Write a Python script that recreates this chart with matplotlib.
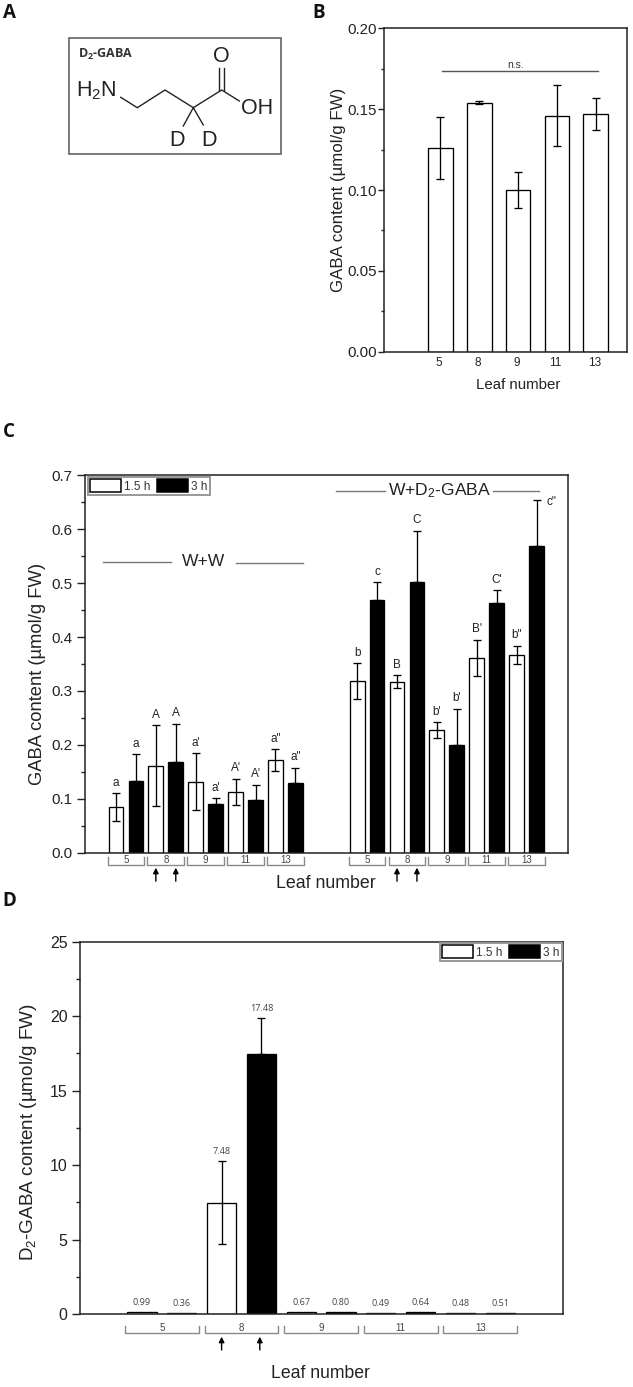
import numpy as np
import matplotlib
matplotlib.use('Agg')
import matplotlib.pyplot as plt
from matplotlib.patches import Patch, Rectangle

plt.rcParams['font.family'] = ['Liberation Sans', 'DejaVu Sans']
plt.rcParams['mathtext.default'] = 'regular'

W, H = 633, 1387
DARK = '#222222'
GRAY = '#8a8a8a'

leaf_labels = ['5', '8', '9', '11', '13']

# panel B
b_values = [0.126, 0.154, 0.100, 0.146, 0.147]
b_errors = [0.019, 0.001, 0.011, 0.019, 0.010]

# panel C, W+W
ww_15h = [0.084, 0.161, 0.132, 0.113, 0.172]
ww_15h_err = [0.026, 0.075, 0.052, 0.024, 0.020]
ww_3h = [0.133, 0.169, 0.090, 0.098, 0.129]
ww_3h_err = [0.050, 0.070, 0.011, 0.028, 0.029]
ww_15h_letters = ['a', 'A', "a'", "A'", 'a"']
ww_3h_letters = ['a', 'A', "a'", "A'", 'a"']

# panel C, W+D2-GABA
dg_15h = [0.318, 0.317, 0.227, 0.361, 0.367]
dg_15h_err = [0.033, 0.012, 0.015, 0.034, 0.017]
dg_3h = [0.469, 0.502, 0.200, 0.464, 0.568]
dg_3h_err = [0.033, 0.095, 0.067, 0.023, 0.087]
dg_15h_letters = ['b', 'B', "b'", "B'", 'b"']
dg_3h_letters = ['c', 'C', "b'", "C'", 'c"']

# panel D
d_15h = [0.14, 7.48, 0.12, 0.10, 0.10]
d_15h_err = [0, 2.77, 0, 0, 0]
d_3h = [0.09, 17.48, 0.13, 0.11, 0.10]
d_3h_err = [0, 2.42, 0, 0, 0]
d_15h_text = ['0.99', '7.48', '0.67', '0.49', '0.48']
d_3h_text = ['0.36', '17.48', '0.80', '0.64', '0.51']


def px_axes(fig, left, right, top, bottom):
    ax = fig.add_axes([left/W, 1-bottom/H, (right-left)/W, (bottom-top)/H])
    for s in ax.spines.values():
        s.set_linewidth(1.1)
        s.set_color(DARK)
    ax.tick_params(axis='y', which='major', length=5.5, width=1, color=DARK, labelcolor=DARK)
    ax.tick_params(axis='y', which='minor', length=3, width=1, color=DARK)
    return ax


def draw_bars(ax, x, vals, errs, color, width, capsize, both=False):
    ax.bar(x, vals, width=width, color=color, edgecolor='black', linewidth=0.95, zorder=2)
    errs = np.array(errs)
    lower = errs if both else np.zeros(len(errs))
    show = errs > 0
    ax.errorbar(np.array(x)[show], np.array(vals)[show], yerr=[lower[show], errs[show]], fmt='none',
                ecolor='black', elinewidth=0.95, capsize=capsize, capthick=0.95, zorder=3)


def bracket(ax, center, half, y0, y1, label, size):
    # y0,y1 are pixels below the x axis
    h = ax.get_window_extent().height
    tr = ax.get_xaxis_transform()
    ax.plot([center-half, center-half, center+half, center+half], [-y0/h, -y1/h, -y1/h, -y0/h],
            transform=tr, color=GRAY, lw=1, clip_on=False)
    ax.text(center, -(y1-5)/h, label, transform=tr, ha='center', va='center',
            fontsize=size, color='#444444', clip_on=False)


def up_arrow(ax, x, y0, y1):
    h = ax.get_window_extent().height
    tr = ax.get_xaxis_transform()
    ax.annotate('', xy=(x, -y0/h), xytext=(x, -y1/h), xycoords=tr, textcoords=tr,
                arrowprops=dict(arrowstyle='-|>', color='black', lw=1, mutation_scale=8,
                                shrinkA=0, shrinkB=0))


def add_legend(ax, loc, anchor):
    handles = [Patch(facecolor='white', edgecolor='black', linewidth=1.1),
               Patch(facecolor='black', edgecolor='black', linewidth=1.1)]
    leg = ax.legend(handles, ['1.5 h', '3 h'], ncol=2, loc=loc, bbox_to_anchor=anchor, fontsize=8.5,
                    handlelength=2.6, handleheight=1.3, handletextpad=0.3, columnspacing=0.55,
                    borderpad=0.2, borderaxespad=0, fancybox=False, framealpha=1, edgecolor='#999999')
    leg.get_frame().set_linewidth(1.4)
    for t in leg.get_texts():
        t.set_color('#333333')
    leg.set_zorder(5)


fig = plt.figure(figsize=(W/100, H/100), dpi=100)

# overlay in pixel coordinates, for the letters, the structure and free text
bg = fig.add_axes([0, 0, 1, 1])
bg.set_xlim(0, W)
bg.set_ylim(H, 0)
bg.axis('off')
bg.set_zorder(10)
bg.patch.set_alpha(0)

for letter, x, y in [('A', 3, 13), ('B', 312, 13), ('C', 3, 432), ('D', 2, 901)]:
    bg.text(x, y, letter, fontsize=13.5, fontweight='bold', family='Open Sans', ha='left', va='center', color='#111111')

# panel A
bg.add_patch(Rectangle((68.7, 38.3), 212.3, 115.7, fill=False, edgecolor='#555555', lw=1.1))
bg.text(78, 54.5, r'D$_2$-GABA', family='Open Sans', fontweight='bold', fontsize=9, color='#333333', ha='left', va='center')
bg.plot([120.7, 137.3, 165, 193.3, 221.7, 239.3], [97.3, 107.7, 90, 107.7, 90, 101], color='#222222', lw=1)
bg.plot([218.5, 218.5], [90, 68.3], color='#222222', lw=1)
bg.plot([224, 224], [90, 68.3], color='#222222', lw=1)
bg.plot([193.3, 183.3], [107.7, 126], color='#222222', lw=1)
bg.plot([193.3, 203.3], [107.7, 125], color='#222222', lw=1)
mol = dict(fontsize=15.5, color='#222222', va='center')
bg.text(76, 91, r'H$_2$N', ha='left', **mol)
bg.text(221.7, 56.5, 'O', ha='center', **mol)
bg.text(240.5, 108.5, 'OH', ha='left', **mol)
bg.text(176.7, 140, 'D', ha='center', **mol)
bg.text(209.3, 140, 'D', ha='center', **mol)

# panel B
ax = px_axes(fig, 384, 627, 28.3, 351.7)
xb = np.arange(5)
draw_bars(ax, xb, b_values, b_errors, 'white', 0.63, 2.6, both=True)
ax.set_xlim(-1.456, 4.807)
ax.set_ylim(0, 0.2)
ax.set_yticks([0, 0.05, 0.1, 0.15, 0.2])
ax.set_yticklabels(['0.00', '0.05', '0.10', '0.15', '0.20'], fontsize=10.8)
ax.set_yticks([0.025, 0.075, 0.125, 0.175], minor=True)
ax.tick_params(axis='y', which='major', length=4, pad=1.2)
ax.tick_params(axis='y', which='minor', length=2.4)
ax.set_xticks(xb-0.04)
ax.set_xticklabels(leaf_labels, fontsize=8.5, color=DARK)
ax.tick_params(axis='x', length=0, pad=4)
ax.plot([0.03, 4.06], [0.1734, 0.1734], color='#555555', lw=1)
ax.text(1.94, 0.1745, 'n.s.', ha='center', va='bottom', fontsize=7.5, color='#333333')
bg.text(338.8, 190, 'GABA content (µmol/g FW)', rotation=90, ha='center', va='center', fontsize=12.2, color=DARK)
bg.text(517.7, 385, 'Leaf number', ha='center', va='center', fontsize=10.8, color=DARK)

# panel C
ax = px_axes(fig, 85.3, 568, 475.3, 852.7)
slots = np.arange(5)*2
for offset, v15, e15, v3, e3, l15, l3 in [
        (0, ww_15h, ww_15h_err, ww_3h, ww_3h_err, ww_15h_letters, ww_3h_letters),
        (12.1, dg_15h, dg_15h_err, dg_3h, dg_3h_err, dg_15h_letters, dg_3h_letters)]:
    x15 = slots+offset
    x3 = slots+offset+1
    draw_bars(ax, x15, v15, e15, 'white', 0.74, 2.9, both=True)
    draw_bars(ax, x3, v3, e3, 'black', 0.74, 2.9)
    for xs, vs, es, ls in [(x15, v15, e15, l15), (x3, v3, e3, l3)]:
        for x, v, e, l in zip(xs, vs, es, ls):
            if l == 'c"':
                ax.annotate(l, (x, v+e), xytext=(7.5, -1.5), textcoords='offset points',
                            ha='left', va='center', fontsize=8.5, color=DARK)
            else:
                ax.annotate(l, (x, v+e), xytext=(0, 7.5), textcoords='offset points',
                            ha='center', va='center', fontsize=8.5, color=DARK)
    for i, c in enumerate(slots+offset+0.5):
        bracket(ax, c, 0.92, 4.5, 12.5, leaf_labels[i], 7)
    up_arrow(ax, x15[1], 15, 28.5)
    up_arrow(ax, x3[1], 15, 28.5)
ax.set_xlim(-1.54, 22.68)
ax.set_ylim(0, 0.7)
ax.set_yticks(np.arange(0, 0.71, 0.1))
ax.set_yticklabels(['0.0', '0.1', '0.2', '0.3', '0.4', '0.5', '0.6', '0.7'], fontsize=11)
ax.set_yticks(np.arange(0.05, 0.7, 0.1), minor=True)
ax.set_xticks([])
add_legend(ax, 'upper left', (0.005, 0.996))
bg.plot([103.3, 171], [561.7, 561.7], color='#777777', lw=1)
bg.plot([235.7, 302.7], [563, 563], color='#777777', lw=1)
bg.text(203.3, 562, 'W+W', ha='center', va='center', fontsize=12.6, color=DARK)
bg.plot([336, 385], [490.7, 490.7], color='#777777', lw=1)
bg.plot([493, 539], [490.7, 490.7], color='#777777', lw=1)
bg.text(439.5, 491, r'W+D$_2$-GABA', ha='center', va='center', fontsize=12.6, color=DARK)
bg.text(38, 673.5, 'GABA content (µmol/g FW)', rotation=90, ha='center', va='center', fontsize=13.2, color=DARK)
bg.text(326, 884, 'Leaf number', ha='center', va='center', fontsize=12.8, color=DARK)

# panel D
ax = px_axes(fig, 80, 562.7, 941.7, 1314)
x15 = slots
x3 = slots+1
draw_bars(ax, x15, d_15h, d_15h_err, 'white', 0.73, 2.9, both=True)
draw_bars(ax, x3, d_3h, d_3h_err, 'black', 0.73, 2.9)
for xs, vs, es, ts in [(x15, d_15h, d_15h_err, d_15h_text), (x3, d_3h, d_3h_err, d_3h_text)]:
    for x, v, e, t in zip(xs, vs, es, ts):
        ax.annotate(t, (x, v+e), xytext=(0, 6.8), textcoords='offset points', ha='center', va='center',
                    fontsize=6.6, family='Open Sans', color='#444444')
for i, c in enumerate(slots+0.5):
    bracket(ax, c, 0.925, 12, 19.3, leaf_labels[i], 7)
up_arrow(ax, x15[1], 22.7, 36)
up_arrow(ax, x3[1]-0.04, 22.7, 36)
ax.set_xlim(-1.558, 10.57)
ax.set_ylim(0, 25)
ax.set_yticks(np.arange(0, 26, 5))
ax.set_yticklabels(['0', '5', '10', '15', '20', '25'], fontsize=11.5)
ax.set_yticks(np.arange(2.5, 25, 5), minor=True)
ax.set_xticks([])
add_legend(ax, 'upper right', (0.9985, 0.997))
bg.text(29, 1131.7, r'D$_2$-GABA content (µmol/g FW)', rotation=90, ha='center', va='center', fontsize=13.6, color=DARK)
bg.text(320, 1374, 'Leaf number', ha='center', va='center', fontsize=12.7, color=DARK)

fig.savefig('out.png', dpi=100)
